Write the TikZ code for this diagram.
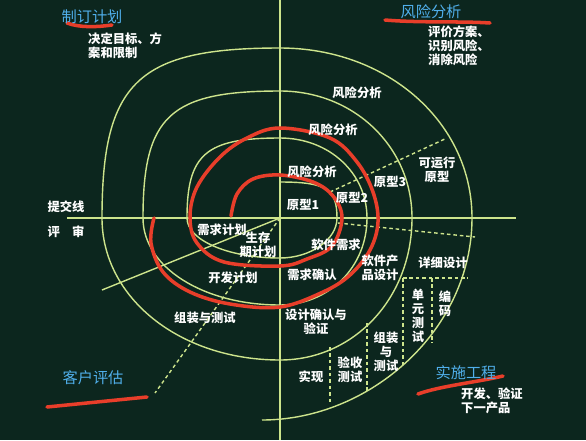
\documentclass[tikz,border=0pt]{standalone}
\usepackage{fontspec}
\setmainfont{Noto Sans CJK SC}
\definecolor{board}{RGB}{12,38,30}
\definecolor{chalk}{RGB}{205,228,140}
\definecolor{pen}{RGB}{232,62,42}
\definecolor{title}{RGB}{80,175,235}
\tikzset{
  stage/.style={text=white, font=\bfseries\fontsize{10.5}{12}\selectfont, align=center, inner sep=0pt},
  quad/.style={text=title, font=\fontsize{13}{15}\selectfont, inner sep=0pt},
  rule/.style={draw=chalk, line width=1.2pt},
  cut/.style={rule, dash pattern=on 3pt off 2.5pt},
  ink/.style={draw=pen, line width=3pt, line cap=round, line join=round},
}
\begin{document}
\begin{tikzpicture}[x=0.03cm, y=-0.03cm]
\fill[board] (0,0) rectangle (586,440);
\useasboundingbox (0,0) rectangle (586,440);

% axes
\coordinate (O) at (280,218);
\coordinate (W) at (67,218);
\coordinate (E) at (516,218);
\coordinate (N) at (280,0);
\coordinate (S) at (280,440);
\draw[rule] (W) -- (E);
\draw[rule] (N) -- (S);
\draw[rule] (O) -- (102,290);
\draw[cut] (O) -- (155,393);

% spiral
\draw[rule] (280,182) .. controls (326,182) and (337,189) .. (337,218)
  .. controls (337,240) and (310,258) .. (280,258)
  .. controls (228,258) and (187,240) .. (187,218)
  .. controls (187,154) and (206,138) .. (280,138)
  .. controls (329,138) and (367,173) .. (367,218)
  .. controls (367,267) and (329,305) .. (280,305)
  .. controls (203,305) and (143,267) .. (143,218)
  .. controls (143,116) and (170,91) .. (280,91)
  .. controls (354,91) and (412,147) .. (412,218)
  .. controls (412,298) and (354,360) .. (280,360)
  .. controls (180,360) and (102,298) .. (102,218)
  .. controls (102,82) and (138,48) .. (280,48)
  .. controls (388,48) and (472,123) .. (472,218)
  .. controls (472,330) and (370,420) .. (262,420);

% sectors
\draw[cut] (330,192) -- (447,138);
\draw[cut] (338,223) -- (475,237);
\draw[cut] (403,278) -- (468,278);
\draw[cut] (403,278) -- (403,368);
\draw[cut] (432,278) -- (432,343);
\draw[cut] (367,323) -- (367,393);
\draw[cut] (330,347) -- (330,402);

% hand marks
\draw[ink] plot[smooth, tension=0.6] coordinates {(231,216) (237,194) (253,179)
  (280,175) (313,182) (333,196) (342,218) (332,246) (307,259) (280,266)
  (224,262) (197,243) (190,217) (197,187) (220,157) (247,138) (280,128)
  (330,138) (357,162) (373,192) (378,222) (370,250) (350,275) (323,292)
  (280,307) (230,304) (190,292) (163,272) (151,243) (154,218)};
\draw[ink] (67,23) .. controls (80,28) and (98,27) .. (112,25);
\draw[ink] (385,20) .. controls (420,23) and (460,21) .. (490,23);
\draw[ink] (47,407) -- (147,397);
\draw[ink] (418,394) .. controls (440,386) and (478,382) .. (503,376);

% quadrant titles
\node[quad] (plan) at (92,17) {制订计划};
\node[stage, anchor=west, align=left] (planTxt) at (88,46) {决定目标、方\\案和限制};
\node[quad] (risk) at (431,12) {风险分析};
\node[stage, anchor=west, align=left] (riskTxt) at (428,46) {评价方案、\\识别风险、\\消除风险};
\node[quad] (eval) at (93,378) {客户评估};
\node[quad] (eng) at (466,373) {实施工程};
\node[stage, anchor=west, align=left] (engTxt) at (461,401) {开发、验证\\下一产品};

% stages
\node[stage] (riskA) at (357,93) {风险分析};
\node[stage] (riskB) at (333,130) {风险分析};
\node[stage] (riskC) at (312,172) {风险分析};
\node[stage] (proto1) at (303,205) {原型1};
\node[stage] (proto2) at (352,198) {原型2};
\node[stage] (proto3) at (390,182) {原型3};
\node[stage] (protoRun) at (437,170) {可运行\\原型};
\node[stage] (submit) at (66,207) {提交线};
\node[stage] (review) at (66,232) {评\hspace{1em}审};
\node[stage] (reqPlan) at (222,230) {需求计划};
\node[stage] (lifePlan) at (258,245) {生存\\期计划};
\node[stage] (devPlan) at (233,278) {开发计划};
\node[stage] (intPlan) at (205,318) {组装与测试};
\node[stage] (swReq) at (336,245) {软件需求};
\node[stage] (reqCheck) at (312,275) {需求确认};
\node[stage] (prodDesign) at (380,268) {软件产\\品设计};
\node[stage] (detDesign) at (443,263) {详细设计};
\node[stage] (desCheck) at (316,322) {设计确认与\\验证};
\node[stage] (impl) at (311,377) {实现};
\node[stage] (accTest) at (350,370) {验收\\测试};
\node[stage] (intTest) at (386,352) {组装\\与\\测试};
\node[stage] (unitTest) at (418,316) {单\\元\\测\\试};
\node[stage] (coding) at (445,304) {编\\码};
\end{tikzpicture}
\end{document}
